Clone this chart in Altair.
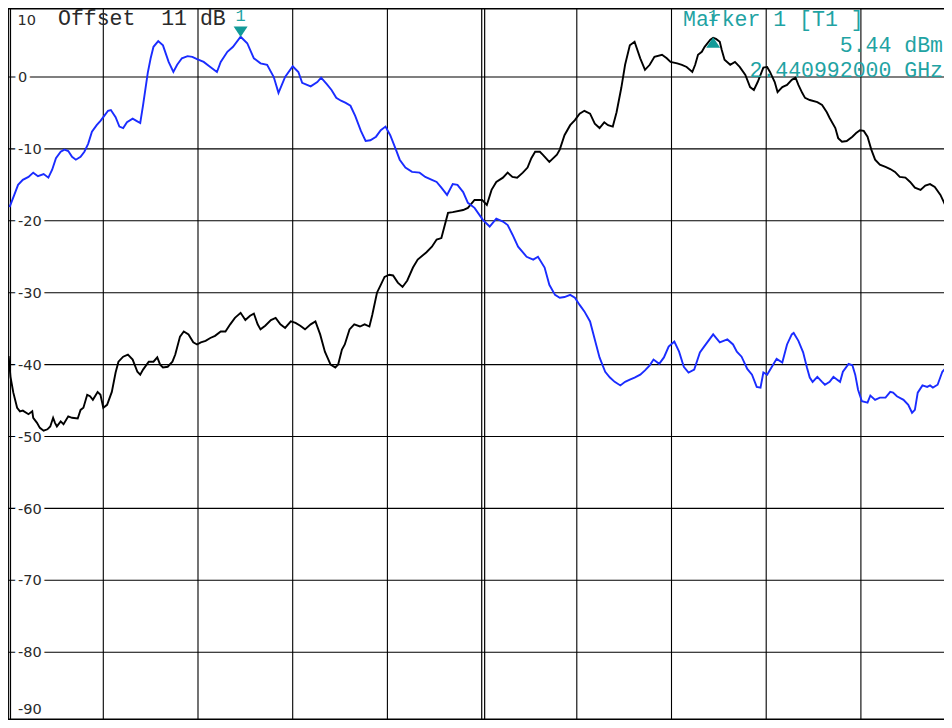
import altair as alt
import pandas as pd

# ---------------- data (x in screen divisions 0..10, level in dBm) ----------------
black_x = [0.00, 0.02, 0.05, 0.09, 0.12, 0.15, 0.21, 0.25, 0.26, 0.30, 0.33, 0.37, 0.41, 0.44, 0.47, 0.49, 0.51,
           0.55, 0.58, 0.63, 0.67, 0.73, 0.76, 0.79, 0.83, 0.86, 0.89, 0.94, 0.97, 1.00, 1.04, 1.09, 1.13, 1.16,
           1.21, 1.26, 1.31, 1.36, 1.39, 1.42, 1.48, 1.53, 1.57, 1.60, 1.63, 1.68, 1.73, 1.76, 1.81, 1.85, 1.90,
           1.95, 1.99, 2.03, 2.08, 2.13, 2.18, 2.24, 2.29, 2.34, 2.39, 2.45, 2.50, 2.55, 2.59, 2.63, 2.66, 2.71,
           2.77, 2.82, 2.87, 2.92, 2.98, 3.03, 3.08, 3.13, 3.19, 3.24, 3.29, 3.34, 3.40, 3.45, 3.48, 3.52, 3.55,
           3.60, 3.65, 3.71, 3.76, 3.81, 3.84, 3.89, 3.93, 3.97, 4.02, 4.06, 4.11, 4.16, 4.21, 4.27, 4.32, 4.41,
           4.47, 4.52, 4.57, 4.64, 4.69, 4.80, 4.85, 4.92, 5.00, 5.05, 5.10, 5.15, 5.22, 5.27, 5.32, 5.37, 5.43,
           5.48, 5.52, 5.56, 5.61, 5.64, 5.71, 5.79, 5.82, 5.87, 5.93, 5.98, 6.03, 6.08, 6.14, 6.19, 6.24, 6.29,
           6.33, 6.38, 6.42, 6.47, 6.51, 6.56, 6.61, 6.67, 6.72, 6.77, 6.82, 6.90, 6.95, 6.99, 7.06, 7.11, 7.16,
           7.22, 7.25, 7.28, 7.32, 7.35, 7.41, 7.44, 7.47, 7.51, 7.53, 7.56, 7.62, 7.67, 7.72, 7.78, 7.83, 7.87,
           7.91, 7.97, 8.01, 8.04, 8.09, 8.12, 8.17, 8.22, 8.27, 8.31, 8.34, 8.38, 8.41, 8.46, 8.54, 8.59, 8.64,
           8.67, 8.73, 8.76, 8.80, 8.85, 8.91, 8.95, 8.99, 9.03, 9.07, 9.11, 9.15, 9.20, 9.26, 9.31, 9.36, 9.41,
           9.47, 9.52, 9.57, 9.63, 9.68, 9.73, 9.78, 9.84, 9.89, 9.94, 10.00]
black_db = [-38.8, -41.7, -43.9, -46.0, -46.5, -46.4, -46.9, -46.5, -47.4, -48.1, -48.8, -49.2, -49.0, -48.6,
            -47.4, -48.1, -48.6, -47.9, -48.3, -47.2, -47.4, -47.5, -46.3, -46.0, -44.2, -44.4, -44.9, -43.8,
            -44.2, -46.0, -45.6, -43.8, -41.1, -39.6, -38.9, -38.6, -39.3, -41.0, -41.4, -40.7, -39.6, -39.6,
            -39.0, -40.0, -40.4, -40.3, -39.6, -38.6, -36.1, -35.4, -35.8, -36.9, -37.2, -36.9, -36.7, -36.3,
            -36.0, -35.4, -35.4, -34.4, -33.5, -32.8, -33.8, -33.2, -32.9, -34.4, -35.1, -34.6, -33.8, -33.5,
            -34.4, -34.9, -34.0, -34.2, -34.6, -35.1, -34.4, -34.0, -35.8, -38.2, -40.0, -40.4, -40.0, -37.9,
            -37.2, -35.1, -34.4, -34.7, -34.4, -34.7, -33.1, -30.0, -28.9, -27.8, -27.5, -27.6, -28.6, -29.2,
            -28.3, -26.5, -25.4, -24.4, -23.6, -22.6, -22.4, -18.9, -18.8, -18.5, -18.2, -17.1, -17.1, -17.8,
            -15.7, -14.6, -14.0, -13.3, -13.9, -14.0, -13.3, -12.6, -11.3, -10.4, -10.4, -10.8, -11.8, -10.8,
            -10.1, -8.1, -6.7, -6.0, -5.1, -4.7, -5.1, -6.5, -7.1, -6.3, -6.7, -6.9, -4.9, -1.5, 1.7, 4.4, 4.9,
            2.6, 1.0, 1.7, 2.8, 3.1, 2.6, 2.1, 1.9, 1.7, 1.4, 0.7, 1.7, 3.1, 3.5, 4.2, 5.2, 5.44, 5.3, 4.9, 3.8,
            2.4, 1.7, 2.1, 1.4, 0.3, -1.4, -1.8, -0.7, 1.3, 1.4, 0.7, -0.7, -2.1, -1.4, -1.1, -0.4, -0.1, -1.1,
            -2.2, -2.9, -3.2, -3.5, -3.9, -4.9, -5.7, -7.1, -8.5, -9.0, -8.9, -8.3, -7.8, -7.4, -7.5, -8.3,
            -10.1, -11.5, -12.2, -12.5, -12.8, -13.2, -13.9, -14.0, -14.6, -15.4, -15.7, -15.1, -14.9, -15.3,
            -16.4, -17.8, -18.6, -18.9]

blue_x = [0.01, 0.06, 0.10, 0.15, 0.21, 0.26, 0.31, 0.37, 0.42, 0.46, 0.50, 0.55, 0.59, 0.63, 0.67, 0.71, 0.76,
          0.80, 0.84, 0.88, 0.93, 0.97, 1.01, 1.05, 1.08, 1.13, 1.17, 1.21, 1.25, 1.31, 1.35, 1.39, 1.42, 1.47,
          1.50, 1.53, 1.58, 1.63, 1.69, 1.74, 1.78, 1.83, 1.89, 1.94, 1.99, 2.06, 2.13, 2.20, 2.24, 2.31, 2.37,
          2.45, 2.52, 2.59, 2.66, 2.73, 2.80, 2.85, 2.92, 3.00, 3.06, 3.10, 3.19, 3.26, 3.30, 3.36, 3.41, 3.46,
          3.51, 3.56, 3.61, 3.66, 3.72, 3.77, 3.82, 3.88, 3.93, 3.98, 4.03, 4.09, 4.13, 4.19, 4.26, 4.34, 4.40,
          4.47, 4.52, 4.57, 4.63, 4.69, 4.74, 4.80, 4.85, 4.92, 5.01, 5.08, 5.15, 5.22, 5.27, 5.32, 5.38, 5.47,
          5.54, 5.59, 5.66, 5.71, 5.77, 5.82, 5.87, 5.93, 5.98, 6.03, 6.08, 6.14, 6.19, 6.24, 6.30, 6.35, 6.40,
          6.46, 6.51, 6.56, 6.61, 6.67, 6.72, 6.77, 6.81, 6.87, 6.92, 6.97, 7.03, 7.08, 7.13, 7.18, 7.24, 7.30,
          7.35, 7.44, 7.51, 7.59, 7.65, 7.69, 7.74, 7.80, 7.85, 7.90, 7.94, 7.97, 8.01, 8.06, 8.11, 8.17, 8.22,
          8.27, 8.29, 8.34, 8.39, 8.43, 8.46, 8.49, 8.54, 8.59, 8.62, 8.67, 8.71, 8.75, 8.78, 8.81, 8.87, 8.91,
          8.94, 8.97, 9.01, 9.07, 9.10, 9.15, 9.20, 9.26, 9.31, 9.34, 9.38, 9.45, 9.50, 9.54, 9.57, 9.60, 9.65,
          9.70, 9.73, 9.76, 9.81, 9.86, 9.90, 9.94, 10.00]
blue_db = [-18.1, -16.4, -15.0, -14.3, -13.9, -13.3, -13.8, -13.5, -14.0, -12.9, -11.3, -10.4, -10.1, -10.3,
           -11.1, -11.5, -11.1, -10.4, -9.3, -7.6, -6.7, -6.1, -5.4, -4.7, -4.6, -5.6, -6.9, -7.1, -6.3, -5.8,
           -6.1, -6.4, -3.9, 0.6, 2.6, 4.2, 5.0, 4.4, 2.1, 0.7, 1.7, 2.6, 2.9, 2.8, 2.5, 2.1, 1.4, 0.7, 2.1, 3.5,
           4.2, 5.6, 4.7, 2.6, 1.9, 1.7, 0.0, -2.2, 0.0, 1.5, 0.7, -0.8, -1.3, -0.7, -0.1, -1.0, -1.8, -2.9, -3.3,
           -3.6, -4.0, -5.4, -7.5, -8.9, -8.8, -8.3, -7.4, -6.9, -8.1, -10.1, -11.5, -12.6, -13.2, -13.3, -13.9,
           -14.3, -14.6, -15.4, -16.4, -14.9, -15.0, -16.0, -17.5, -18.2, -19.9, -20.8, -19.7, -20.1, -20.6,
           -21.9, -23.6, -25.0, -25.4, -25.0, -26.5, -28.9, -30.3, -30.7, -30.6, -30.3, -30.7, -31.7, -32.6,
           -34.0, -36.5, -39.0, -41.0, -41.8, -42.4, -42.9, -42.4, -42.1, -41.8, -41.4, -40.8, -40.1, -39.3,
           -39.9, -39.0, -37.5, -36.8, -38.2, -40.3, -41.1, -40.7, -38.3, -37.4, -35.8, -36.9, -36.5, -37.2,
           -38.2, -38.9, -40.6, -41.4, -43.1, -43.2, -41.1, -41.4, -40.3, -39.2, -39.7, -37.2, -35.8, -35.6,
           -36.7, -38.3, -40.4, -41.8, -42.4, -41.7, -42.4, -42.8, -42.4, -41.7, -42.1, -42.4, -41.0, -39.9,
           -40.1, -41.4, -43.5, -45.1, -45.3, -44.3, -44.9, -44.6, -44.6, -43.8, -43.9, -44.4, -44.9, -45.6,
           -46.7, -46.3, -43.9, -42.9, -43.1, -42.9, -43.2, -42.8, -41.0, -40.4, -40.7, -40.8]

# markers
blue_marker = {"x": 2.45, "db": 5.6, "label": "1"}
black_marker = {"x": 7.44, "db": 5.44, "label": "1"}

grid_x = [0, 1, 2, 3, 4, 6, 7, 8, 9]
center_x = [4.996, 5.027]          # double centre line
frame_left = [0.02]                # inner left frame line
grid_y = [0, -10, -20, -30, -40, -50, -60, -70, -80, -90]
frame_y = [-89.33, 9.49]           # bottom / top frame edge

y_label_vals = [0, -10, -20, -30, -40, -50, -60, -70, -80]
y_label_txt = ["0", "-10", "-20", "-30", "-40", "-50", "-60", "-70", "-80"]
top_label = "10"
bottom_label = "-90"

offset_text = "Offset\u00a0\u00a011 dB"
marker_title = "Marker 1 [T1 ]"
marker_level = "5.44 dBm"
marker_freq = "2.440992000 GHz"

# ---------------- scales ----------------
W, H = 936, 712
xs = alt.Scale(domain=[-0.0063, 9.8775], nice=False, zero=False)
ys = alt.Scale(domain=[-89.43, 9.597], nice=False, zero=False)

BLUE = "#1a2cff"
TEAL_T = "#1fa3a3"
TEAL_M = "#129a98"
TXT = "#2a2a2a"


def X(f):
    return alt.X(f, type="quantitative", scale=xs, axis=None)


def Y(f):
    return alt.Y(f, type="quantitative", scale=ys, axis=None)


layers = []

# grid
layers.append(alt.Chart(pd.DataFrame({"g": grid_x})).mark_rule(color="black", strokeWidth=1.1).encode(x=X("g")))
layers.append(alt.Chart(pd.DataFrame({"g": center_x})).mark_rule(color="black", strokeWidth=1.2).encode(x=X("g")))
layers.append(alt.Chart(pd.DataFrame({"g": frame_left})).mark_rule(color="black", strokeWidth=1.2).encode(x=X("g")))
layers.append(alt.Chart(pd.DataFrame({"g": grid_y})).mark_rule(color="black", strokeWidth=1.1).encode(y=Y("g")))
layers.append(alt.Chart(pd.DataFrame({"g": frame_y})).mark_rule(color="black", strokeWidth=1.4).encode(y=Y("g")))

# y labels with white halo
lab = pd.DataFrame({"v": y_label_vals, "t": y_label_txt})
lab_font = dict(font="DejaVu Sans", fontSize=14.5, align="left", baseline="alphabetic", dy=5.2)
layers.append(alt.Chart(lab).mark_text(stroke="white", strokeWidth=7, strokeJoin="round", fill="white", **lab_font)
              .encode(x=alt.value(10), y=Y("v"), text="t:N"))
layers.append(alt.Chart(lab).mark_text(color=TXT, **lab_font).encode(x=alt.value(10), y=Y("v"), text="t:N"))
layers.append(alt.Chart(pd.DataFrame({"v": [10], "t": [top_label]}))
              .mark_text(color=TXT, font="DejaVu Sans", fontSize=14.5, align="left", baseline="alphabetic", dy=19.9)
              .encode(x=alt.value(9.5), y=Y("v"), text="t:N"))
layers.append(alt.Chart(pd.DataFrame({"v": [-90], "t": [bottom_label]}))
              .mark_text(color=TXT, font="DejaVu Sans", fontSize=14.5, align="left", baseline="alphabetic", dy=-10.1)
              .encode(x=alt.value(10), y=Y("v"), text="t:N"))

# traces
layers.append(alt.Chart(pd.DataFrame({"x": black_x, "db": black_db})).mark_line(color="black", strokeWidth=1.9)
              .encode(x=X("x"), y=Y("db")))
layers.append(alt.Chart(pd.DataFrame({"x": blue_x, "db": blue_db})).mark_line(color=BLUE, strokeWidth=1.9)
              .encode(x=X("x"), y=Y("db")))

# markers
bm = pd.DataFrame([blue_marker])
km = pd.DataFrame([black_marker])
layers.append(alt.Chart(bm).mark_point(shape="M-1,-0.75L1,-0.75L0,0.75Z", size=196, filled=True, color=TEAL_M,
                                        opacity=1, yOffset=-5).encode(x=X("x"), y=Y("db")))
layers.append(alt.Chart(km).mark_point(shape="M-1,0.75L1,0.75L0,-0.75Z", size=196, filled=True, color=TEAL_M,
                                        opacity=1, yOffset=4.5).encode(x=X("x"), y=Y("db")))
layers.append(alt.Chart(bm).mark_text(color=TEAL_T, font="Liberation Mono", fontSize=17, baseline="alphabetic",
                                       dy=-15.5).encode(x=X("x"), y=Y("db"), text="label:N"))
layers.append(alt.Chart(km).mark_text(color=TEAL_T, font="Liberation Mono", fontSize=17, baseline="alphabetic",
                                       dy=-16.5).encode(x=X("x"), y=Y("db"), text="label:N"))


# header texts
def header(txt, px, py, color, align="left"):
    return (alt.Chart(pd.DataFrame({"t": [txt]}))
            .mark_text(color=color, font="Liberation Mono", fontSize=21.5, align=align, baseline="alphabetic")
            .encode(x=alt.value(px), y=alt.value(py), text="t:N"))


layers.append(header(offset_text, 50, 17, TXT))
layers.append(header(marker_title, 675, 18, TEAL_T))
layers.append(header(marker_level, 935, 43.7, TEAL_T, "right"))
layers.append(header(marker_freq, 935, 69.3, TEAL_T, "right"))

chart = (alt.layer(*layers)
         .properties(width=W, height=H, padding=0, background="white",
                     autosize=alt.AutoSizeParams(type="none"))
         .configure_view(stroke=None))

chart.save("out.html", embed_options={"renderer": "svg", "actions": False})
